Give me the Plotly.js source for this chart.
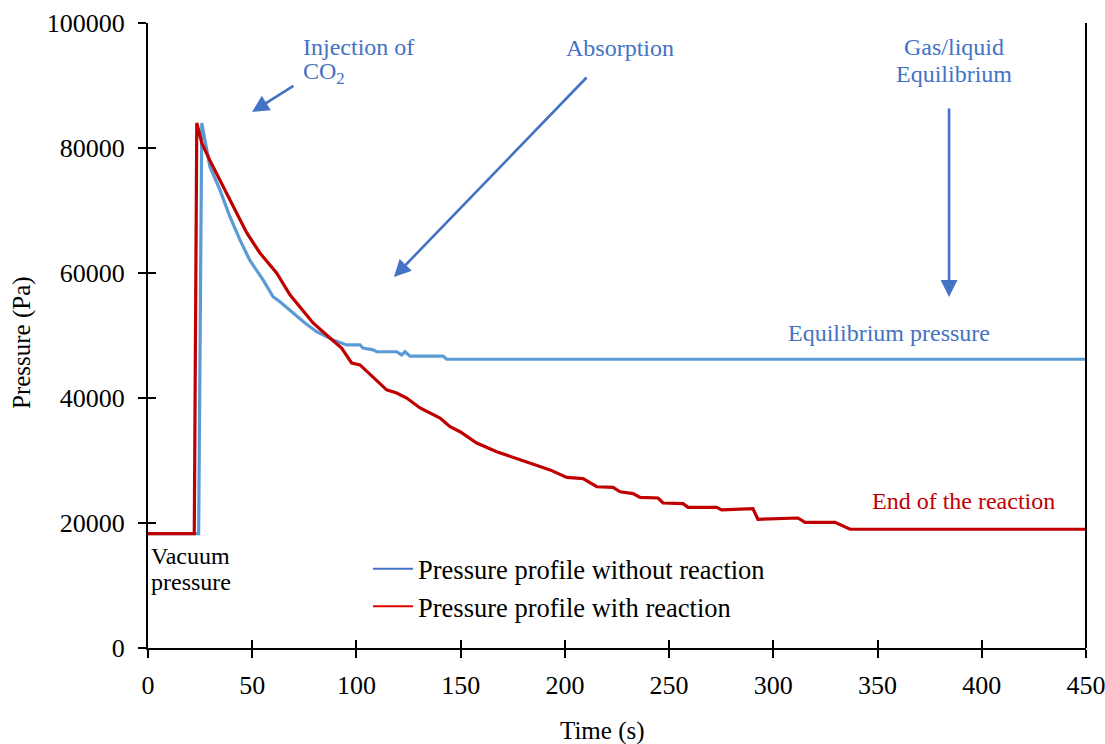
<!DOCTYPE html>
<html>
<head>
<meta charset="utf-8">
<script src="https://cdn.plot.ly/plotly-3.0.1.min.js"></script>
<style>html,body{margin:0;padding:0;background:#fff;}#chart{width:1105px;height:744px;}</style>
</head>
<body>
<div id="chart"></div>
<script>
// Pressure profile without reaction (blue)
const timeNoReaction = [0, 24.3, 25.8, 29.7, 34.5, 39.3, 44.1, 48.9, 55.2, 60, 63.3, 75.3, 80.9, 88.8, 95.3, 101.7, 103.1, 108, 109.7, 119.3, 121.7, 123.3, 125.7, 141.5, 143.3, 450];
const pressNoReaction = [18300, 18300, 84000, 77000, 73300, 69000, 65300, 62000, 58900, 56200, 55400, 52000, 50600, 49300, 48500, 48500, 48000, 47700, 47400, 47400, 46900, 47400, 46700, 46700, 46200, 46200];

// Pressure profile with reaction (red)
const timeReaction = [0, 22.2, 23.4, 25.8, 29.7, 34.5, 39.3, 47.4, 53.7, 61.7, 68.1, 75.3, 79.2, 87.3, 92.9, 97.7, 101.7, 114.5, 119.3, 124.1, 130.5, 140.1, 144.9, 149.7, 157.7, 167.3, 178.5, 186.5, 192.9, 200.9, 208.7, 215.3, 223.1, 226.5, 232.7, 236.1, 244.7, 247.1, 256.7, 259.1, 272.8, 275.2, 290.2, 292.6, 311.8, 315.2, 329.6, 336.8, 450];
const pressReaction = [18300, 18300, 84000, 80800, 78000, 74900, 71700, 66400, 63200, 60000, 56500, 53600, 52000, 49600, 48000, 45600, 45300, 41300, 40800, 40000, 38400, 36800, 35400, 34600, 32800, 31400, 30100, 29300, 28500, 27300, 27100, 25800, 25700, 25000, 24700, 24100, 24000, 23200, 23100, 22500, 22500, 22100, 22300, 20600, 20800, 20100, 20100, 19000, 19000];

const seriesNames = ["Pressure profile without reaction", "Pressure profile with reaction"];
const xTicks = [0, 50, 100, 150, 200, 250, 300, 350, 400, 450];
const yTicks = [0, 20000, 40000, 60000, 80000, 100000];

const FONT = "Liberation Serif, Times New Roman, serif";
const BLUE_TXT = "#4472C4";
const RED_TXT = "#C00000";

const traces = [
  {x: timeNoReaction, y: pressNoReaction, mode: "lines", line: {color: "#5B9BD5", width: 3.2}, showlegend: false, hoverinfo: "skip"},
  {x: timeReaction, y: pressReaction, mode: "lines", line: {color: "#C00000", width: 3.2}, showlegend: false, hoverinfo: "skip"},
  {x: [null], y: [null], mode: "lines", name: seriesNames[0], line: {color: "#4472C4", width: 2}},
  {x: [null], y: [null], mode: "lines", name: seriesNames[1], line: {color: "#E00000", width: 2}},
  {x: [null], y: [null], xaxis: "x2", yaxis: "y2", mode: "lines", showlegend: false, hoverinfo: "skip"}
];

const axisCommon = {
  showgrid: false, zeroline: false, showline: true, linecolor: "#000", linewidth: 2,
  ticks: "outside", ticklen: 8, tickwidth: 2, tickcolor: "#000", ticklabeloverflow: "allow",
  tickfont: {family: FONT, size: 26, color: "#000"}
};

function ann(text, x, y, color, size, opts) {
  return Object.assign({text: text, x: x, y: y, xref: "x", yref: "y", showarrow: false,
    font: {family: FONT, size: size, color: color}}, opts || {});
}
function arrow(x0, y0, x1, y1) {
  return {text: "", x: x1, y: y1, ax: x0, ay: y0, xref: "x", yref: "y", axref: "x", ayref: "y",
    showarrow: true, arrowhead: 2, arrowsize: 1.3, arrowwidth: 2.6, arrowcolor: BLUE_TXT, standoff: 0, startstandoff: 0};
}

const layout = {
  width: 1105, height: 744,
  margin: {l: 148, r: 19, t: 23, b: 96},
  paper_bgcolor: "#fff", plot_bgcolor: "#fff",
  font: {family: FONT, size: 24, color: "#000"},
  xaxis: Object.assign({}, axisCommon, {range: [0, 450], tickvals: xTicks, ticktext: xTicks.map(String), ticklabelstandoff: 5}),
  yaxis: Object.assign({}, axisCommon, {range: [0, 100000], tickvals: yTicks, ticktext: yTicks.map(String), ticklabelstandoff: 8}),
  xaxis2: {overlaying: "x", anchor: "y", range: [0, 450], tickvals: xTicks, ticks: "inside", ticklen: 8, tickwidth: 2, tickcolor: "#000", showticklabels: false, showgrid: false, zeroline: false, showline: false},
  yaxis2: {overlaying: "y", anchor: "x", range: [0, 100000], tickvals: yTicks, ticks: "inside", ticklen: 8, tickwidth: 2, tickcolor: "#000", showticklabels: false, showgrid: false, zeroline: false, showline: false},
  showlegend: true,
  legend: {x: (368 - 148) / 938, y: (648 - 545) / 625, xanchor: "left", yanchor: "top", bgcolor: "rgba(0,0,0,0)",
    font: {family: FONT, size: 26.5, color: "#000"}, itemwidth: 40, tracegroupgap: 0},
  shapes: [
    {type: "line", xref: "paper", yref: "paper", x0: 1, x1: 1, y0: 0, y1: 1, line: {color: "#000", width: 2}}
  ],
  annotations: [
    {text: "Time (s)", xref: "paper", yref: "paper", x: (602 - 148) / 938, y: (648 - 731) / 625, showarrow: false, xanchor: "center", yanchor: "middle", font: {family: FONT, size: 25, color: "#000"}},
    {text: "Pressure (Pa)", xref: "paper", yref: "paper", x: (22 - 148) / 938, y: (648 - 343) / 625, showarrow: false, textangle: -90, xanchor: "center", yanchor: "middle", font: {family: FONT, size: 25, color: "#000"}},
    ann("Injection of", 73.4, 96200, BLUE_TXT, 24, {xanchor: "left"}),
    ann("CO<sub>2</sub>", 73.4, 92000, BLUE_TXT, 24, {xanchor: "left"}),
    ann("Absorption", 226.4, 96000, BLUE_TXT, 24),
    ann("Gas/liquid", 386.7, 96160, BLUE_TXT, 24),
    ann("Equilibrium", 386.7, 91840, BLUE_TXT, 24),
    ann("Equilibrium pressure", 355.5, 50400, BLUE_TXT, 24),
    ann("End of the reaction", 391.2, 23570, RED_TXT, 24),
    ann("Vacuum", 0.6, 14800, "#000", 24, {xanchor: "left"}),
    ann("pressure", 0.6, 10600, "#000", 24, {xanchor: "left"}),
    arrow(70.5, 90080, 49.9, 85760),
    arrow(211.1, 91520, 118.0, 59360),
    arrow(384.3, 86560, 384.3, 56160)
  ]
};

Plotly.newPlot("chart", traces, layout, {displayModeBar: false, staticPlot: true});
</script>
</body>
</html>
